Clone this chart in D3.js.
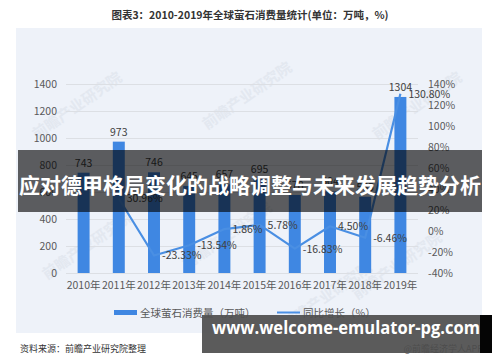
<!DOCTYPE html>
<html>
<head>
<meta charset="utf-8">
<script src="https://cdn.jsdelivr.net/npm/d3@7"></script>
<style>
  html, body { margin: 0; padding: 0; background: #fff; }
  svg { display: block; font-family: "Noto Sans CJK SC", "Noto Sans", sans-serif; }
</style>
</head>
<body>
<div id="chart"></div>
<script>
const years = ['2010年', '2011年', '2012年', '2013年', '2014年', '2015年', '2016年', '2017年', '2018年', '2019年'];
const consumption = [743, 973, 746, 645, 657, 695, 578, 604, 565, 1304];
const growth = [null, 30.96, -23.33, -13.54, 1.86, 5.78, -16.83, 4.50, -6.46, 130.80];
const leftTicks = [0, 200, 400, 600, 800, 1000, 1200, 1400];
const rightTicks = [-40, -20, 0, 20, 40, 60, 80, 100, 120, 140];

const width = 500;
const height = 362;
const plot = { left: 66, right: 418, top: 84, bottom: 273 };
const blue = '#3f87e2';
const textColor = '#595959';

const svg = d3.select('#chart')
    .append('svg')
    .attr('width', width)
    .attr('height', height);

// title
svg.append('text')
    .attr('x', 250)
    .attr('y', 19)
    .attr('text-anchor', 'middle')
    .attr('font-size', 10.5)
    .attr('font-weight', 'bold')
    .attr('fill', '#333')
    .text('图表3：2010-2019年全球萤石消费量统计(单位：万吨，%)');

// panel background
svg.append('rect')
    .attr('x', 16)
    .attr('y', 28)
    .attr('width', 466)
    .attr('height', 305)
    .attr('fill', '#eef2f9');

// faint watermarks
const marks = [[80, 110], [250, 100], [420, 110], [90, 250], [230, 240], [400, 270], [330, 300]];
svg.append('g')
    .selectAll('text')
    .data(marks)
    .join('text')
    .attr('transform', d => `translate(${d[0]},${d[1]}) rotate(-35)`)
    .attr('text-anchor', 'middle')
    .attr('font-size', 15)
    .attr('font-weight', 'bold')
    .attr('fill', '#e3e8f0')
    .text('前瞻产业研究院');

const x = d3.scaleBand()
    .domain(years)
    .range([plot.left, plot.right])
    .paddingInner(0.66)
    .paddingOuter(0.33);

const yLeft = d3.scaleLinear()
    .domain([0, 1400])
    .range([plot.bottom, plot.top]);

const yRight = d3.scaleLinear()
    .domain([-40, 140])
    .range([plot.bottom, plot.top]);

// gridlines
svg.append('g')
    .selectAll('line')
    .data(leftTicks)
    .join('line')
    .attr('x1', plot.left)
    .attr('x2', plot.right)
    .attr('y1', d => yLeft(d) + 0.5)
    .attr('y2', d => yLeft(d) + 0.5)
    .attr('stroke', '#dcdfe4')
    .attr('stroke-width', 1);

// left axis
const leftAxis = svg.append('g')
    .attr('transform', `translate(${plot.left - 9},0)`)
    .call(d3.axisLeft(yLeft).tickValues(leftTicks).tickSize(0).tickPadding(0).tickFormat(d3.format('d')));
leftAxis.select('.domain').remove();
leftAxis.selectAll('text')
    .attr('font-size', 10.5)
    .attr('fill', textColor)
    .attr('font-family', '"Noto Sans CJK SC", sans-serif');

// right axis
const rightAxis = svg.append('g')
    .attr('transform', `translate(${plot.right + 10},0)`)
    .call(d3.axisRight(yRight).tickValues(rightTicks).tickSize(0).tickPadding(0).tickFormat(d => d + '%'));
rightAxis.select('.domain').remove();
rightAxis.selectAll('text')
    .attr('font-size', 10.5)
    .attr('fill', textColor)
    .attr('font-family', '"Noto Sans CJK SC", sans-serif');

// x axis
const xAxis = svg.append('g')
    .attr('transform', `translate(0,${plot.bottom + 9})`)
    .call(d3.axisBottom(x).tickSize(0).tickPadding(0));
xAxis.select('.domain').remove();
xAxis.selectAll('text')
    .attr('font-size', 10.5)
    .attr('fill', textColor)
    .attr('font-family', '"Noto Sans CJK SC", sans-serif');

// bars
svg.append('g')
    .selectAll('rect')
    .data(consumption)
    .join('rect')
    .attr('x', (d, i) => x(years[i]))
    .attr('y', d => yLeft(d))
    .attr('width', x.bandwidth())
    .attr('height', d => plot.bottom - yLeft(d))
    .attr('fill', blue);

svg.append('g')
    .selectAll('text')
    .data(consumption)
    .join('text')
    .attr('x', (d, i) => x(years[i]) + x.bandwidth() / 2)
    .attr('y', d => yLeft(d) - 6)
    .attr('text-anchor', 'middle')
    .attr('font-size', 10.5)
    .attr('fill', '#404040')
    .text(d => d);

// growth line
const pts = growth.map((g, i) => ({ year: years[i], g })).filter(d => d.g !== null);
const line = d3.line()
    .x(d => x(d.year) + x.bandwidth() / 2)
    .y(d => yRight(d.g));

svg.append('path')
    .datum(pts)
    .attr('d', line)
    .attr('fill', 'none')
    .attr('stroke', '#4a8fe3')
    .attr('stroke-width', 2.2)
    .attr('stroke-linejoin', 'round');

svg.append('g')
    .selectAll('text')
    .data(pts)
    .join('text')
    .attr('x', d => x(d.year) + x.bandwidth() / 2 + 8)
    .attr('y', d => yRight(d.g) + 4)
    .attr('font-size', 10.5)
    .attr('fill', '#404040')
    .text(d => d.g.toFixed(2) + '%');

// legend
svg.append('rect')
    .attr('x', 114)
    .attr('y', 310)
    .attr('width', 23)
    .attr('height', 5)
    .attr('fill', blue);
svg.append('text')
    .attr('x', 140)
    .attr('y', 317)
    .attr('font-size', 10.5)
    .attr('fill', textColor)
    .text('全球萤石消费量（万吨）');
svg.append('line')
    .attr('x1', 277)
    .attr('x2', 300)
    .attr('y1', 312.5)
    .attr('y2', 312.5)
    .attr('stroke', '#4a8fe3')
    .attr('stroke-width', 2);
svg.append('text')
    .attr('x', 303)
    .attr('y', 317)
    .attr('font-size', 10.5)
    .attr('fill', textColor)
    .text('同比增长（%）');

// source
svg.append('text')
    .attr('x', 20)
    .attr('y', 352)
    .attr('font-size', 9)
    .attr('fill', '#333')
    .text('资料来源：前瞻产业研究院整理');
svg.append('text')
    .attr('x', 483)
    .attr('y', 352)
    .attr('text-anchor', 'end')
    .attr('font-size', 9)
    .attr('fill', '#333')
    .text('@前瞻经济学人APP');

// headline band
svg.append('rect')
    .attr('x', 18)
    .attr('y', 150)
    .attr('width', 464)
    .attr('height', 62)
    .attr('fill', '#000')
    .attr('fill-opacity', 0.62);
svg.append('text')
    .attr('x', 250)
    .attr('y', 193)
    .attr('text-anchor', 'middle')
    .attr('font-size', 21)
    .attr('font-weight', 'bold')
    .attr('fill', '#fff')
    .text('应对德甲格局变化的战略调整与未来发展趋势分析');

// url band
svg.append('rect')
    .attr('x', 202)
    .attr('y', 315)
    .attr('width', 290)
    .attr('height', 38)
    .attr('fill', '#4f4f4f')
    .attr('fill-opacity', 0.93);
svg.append('rect')
    .attr('x', 480)
    .attr('y', 315)
    .attr('width', 12)
    .attr('height', 38)
    .attr('fill', '#050505');
svg.append('text')
    .attr('x', 212)
    .attr('y', 334)
    .attr('font-size', 18)
    .attr('font-weight', 'bold')
    .attr('fill', '#fff')
    .attr('font-family', '"Open Sans", "DejaVu Sans", sans-serif')
    .attr('textLength', 268)
    .attr('lengthAdjust', 'spacingAndGlyphs')
    .text('www.welcome-emulator-pg.com');
</script>
</body>
</html>
